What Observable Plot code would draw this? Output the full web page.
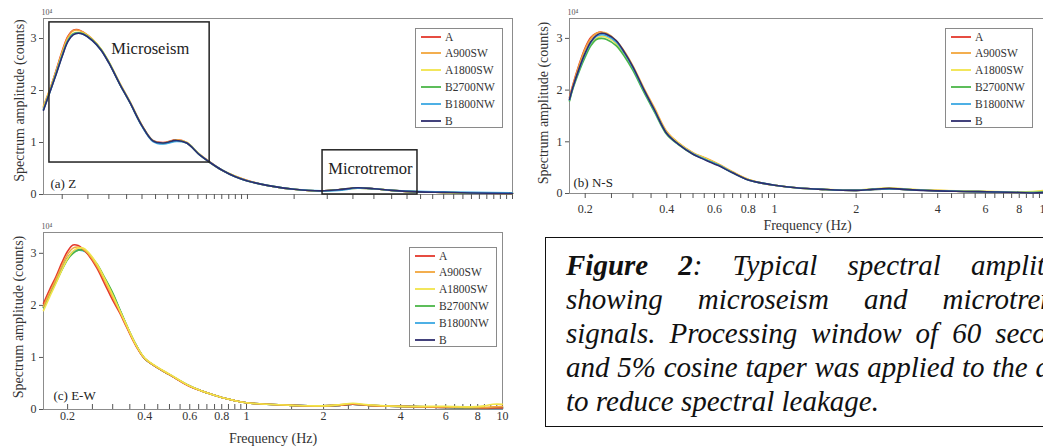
<!DOCTYPE html>
<html><head><meta charset="utf-8">
<script src="https://cdn.jsdelivr.net/npm/d3@7"></script>
<script src="https://cdn.jsdelivr.net/npm/@observablehq/plot@0.6"></script>
<style>
html,body{margin:0;padding:0;background:#fff;width:1043px;height:448px;overflow:hidden;}
#root{position:relative;width:1043px;height:448px;overflow:hidden;font-family:'Liberation Serif','Times New Roman',serif;}
.panel{position:absolute;}
.panel svg{max-width:none !important;display:block;}
.legend{position:absolute;border:1px solid #8a8a8a;background:#fff;box-sizing:border-box;font-family:'Liberation Serif',serif;font-size:11.5px;color:#333;}
.legend .row{position:absolute;left:0;height:14px;line-height:14px;white-space:nowrap;}
.legend svg{position:absolute;left:4px;top:0;}
.legend span{position:absolute;left:29px;top:0;}
#caption{position:absolute;left:545px;top:237px;height:190px;border:1.5px solid #111;box-sizing:border-box;padding:9.5px 0 0 20px;font-family:'Liberation Serif',serif;font-style:italic;font-size:29px;line-height:34px;color:#111;background:#fff;}
#caption .ln{text-align:justify;text-align-last:justify;white-space:normal;}
#caption .ln.last{text-align:left;text-align-last:left;}
.overlay{pointer-events:none;z-index:5;}
</style></head>
<body><div id="root"></div>
<script>
// ---------- shared ----------
const seriesNames = ["A","A900SW","A1800SW","B2700NW","B1800NW","B"];
const seriesColors = ["#e4382c","#f2a53c","#f1e44a","#4bb648","#3aa8e2","#2e2d6e"];
const xTickValues = [0.2,0.25,0.3,0.35,0.4,0.45,0.5,0.55,0.6,0.65,0.7,0.75,0.8,0.85,0.9,0.95,1,1.5,2,2.5,3,3.5,4,4.5,5,5.5,6,6.5,7,7.5,8,8.5,9,9.5,10];
const xTickLabels = [0.2,0.4,0.6,0.8,1,2,4,6,8,10];
const yTickValues = [0,1,2,3];
const yLabel = "Spectrum amplitude (counts)";
const xLabel = "Frequency (Hz)";
const panelLabels = ["(a) Z","(b) N-S","(c) E-W"];

// ---------- (a) Z component, amplitude in 10^4 counts ----------
const freqZ = [0.17,0.18,0.19,0.20,0.21,0.22,0.23,0.24,0.26,0.28,0.30,0.33,0.36,0.40,0.44,0.48,0.54,0.59,0.66,0.72,0.80,0.90,1.0,1.2,1.5,1.9,2.2,2.6,3.0,3.5,4.4,5.5,7.0,10];
const zA       = [1.68,2.02,2.40,2.76,3.04,3.16,3.17,3.12,2.98,2.79,2.54,2.13,1.78,1.33,1.04,1.00,1.05,1.00,0.77,0.63,0.47,0.35,0.27,0.17,0.10,0.07,0.09,0.13,0.11,0.08,0.05,0.04,0.03,0.02];
const zA900SW  = [1.70,2.04,2.38,2.74,3.02,3.15,3.16,3.12,2.99,2.80,2.55,2.14,1.79,1.33,1.03,0.99,1.05,1.00,0.77,0.62,0.47,0.35,0.27,0.17,0.10,0.07,0.09,0.12,0.11,0.08,0.05,0.04,0.03,0.02];
const zA1800SW = [1.66,2.00,2.36,2.70,2.98,3.10,3.12,3.10,2.98,2.80,2.55,2.13,1.78,1.32,1.03,0.99,1.04,1.00,0.77,0.62,0.47,0.35,0.26,0.17,0.10,0.07,0.09,0.12,0.11,0.08,0.05,0.04,0.03,0.03];
const zB2700NW = [1.64,1.99,2.34,2.68,2.96,3.09,3.11,3.09,2.97,2.79,2.54,2.12,1.77,1.32,1.03,0.98,1.03,0.99,0.76,0.62,0.47,0.34,0.26,0.17,0.10,0.07,0.09,0.13,0.11,0.08,0.05,0.04,0.03,0.02];
const zB1800NW = [1.63,1.98,2.33,2.67,2.95,3.08,3.10,3.08,2.96,2.78,2.53,2.12,1.77,1.31,1.02,0.97,1.02,0.99,0.76,0.62,0.47,0.34,0.26,0.17,0.10,0.07,0.08,0.12,0.11,0.08,0.06,0.05,0.04,0.03];
const zB       = [1.62,1.98,2.32,2.66,2.94,3.07,3.10,3.08,2.96,2.78,2.53,2.12,1.77,1.32,1.03,0.99,1.04,0.99,0.76,0.62,0.47,0.34,0.26,0.17,0.10,0.07,0.09,0.13,0.11,0.08,0.05,0.04,0.03,0.02];

// annotation boxes on panel (a)
const microseismBox = {x1:0.179, x2:0.72, y1:0.615, y2:3.31, label:"Microseism", lx:0.43, ly:2.81};
const microtremorBox = {x1:1.92, x2:4.38, y1:0.0, y2:0.85, label:"Microtremor", lx:2.91, ly:0.5};

// ---------- (b) N-S component ----------
const freqNS = [0.175,0.18,0.19,0.20,0.21,0.22,0.23,0.24,0.26,0.28,0.30,0.33,0.36,0.40,0.44,0.50,0.56,0.62,0.70,0.80,0.90,1.0,1.2,1.5,2.0,2.3,2.65,3.0,4.0,5.0,6.5,8.0,9.0,10];
const nsA       = [1.86,2.10,2.50,2.82,3.02,3.10,3.12,3.08,2.94,2.70,2.44,2.00,1.63,1.18,0.98,0.78,0.67,0.56,0.41,0.27,0.20,0.16,0.11,0.08,0.06,0.08,0.09,0.08,0.05,0.04,0.03,0.02,0.02,0.03];
const nsA900SW  = [1.84,2.08,2.48,2.80,3.00,3.10,3.12,3.10,2.96,2.74,2.47,2.03,1.66,1.20,0.99,0.79,0.68,0.57,0.42,0.27,0.20,0.16,0.11,0.08,0.06,0.08,0.10,0.08,0.06,0.04,0.03,0.02,0.02,0.03];
const nsA1800SW = [1.80,2.04,2.40,2.70,2.90,3.00,3.04,3.02,2.90,2.68,2.42,1.98,1.62,1.17,0.98,0.78,0.67,0.56,0.41,0.27,0.20,0.16,0.11,0.08,0.07,0.09,0.11,0.09,0.06,0.05,0.04,0.03,0.04,0.06];
const nsB2700NW = [1.79,2.02,2.36,2.64,2.86,2.98,3.00,2.98,2.86,2.64,2.38,1.95,1.58,1.14,0.95,0.76,0.65,0.55,0.40,0.26,0.20,0.16,0.11,0.08,0.06,0.08,0.09,0.08,0.05,0.04,0.03,0.02,0.02,0.03];
const nsB1800NW = [1.81,2.04,2.40,2.70,2.92,3.04,3.07,3.05,2.93,2.70,2.43,1.99,1.61,1.16,0.96,0.77,0.65,0.55,0.40,0.26,0.20,0.16,0.11,0.08,0.06,0.08,0.09,0.08,0.05,0.04,0.03,0.02,0.02,0.02];
const nsB       = [1.82,2.05,2.42,2.72,2.94,3.06,3.10,3.08,2.96,2.72,2.45,2.00,1.62,1.16,0.96,0.76,0.64,0.54,0.40,0.26,0.20,0.16,0.11,0.08,0.06,0.08,0.10,0.08,0.05,0.04,0.03,0.02,0.01,0.02];

// ---------- (c) E-W component ----------
const freqEW = [0.161,0.17,0.18,0.19,0.20,0.21,0.22,0.23,0.24,0.26,0.28,0.30,0.32,0.34,0.37,0.40,0.45,0.50,0.60,0.70,0.80,0.90,1.0,1.2,1.5,2.0,2.3,2.6,3.0,4.0,5.0,6.0,7.5,8.5,9.2,10];
const ewA       = [2.04,2.30,2.55,2.82,3.04,3.16,3.15,3.08,2.98,2.72,2.40,2.10,1.85,1.58,1.22,0.98,0.80,0.67,0.44,0.32,0.23,0.17,0.13,0.10,0.08,0.07,0.08,0.10,0.08,0.06,0.05,0.04,0.04,0.03,0.03,0.03];
const ewA900SW  = [1.98,2.24,2.50,2.76,2.98,3.10,3.12,3.08,3.00,2.76,2.46,2.16,1.88,1.60,1.23,0.98,0.80,0.67,0.45,0.32,0.23,0.17,0.13,0.10,0.08,0.07,0.09,0.11,0.08,0.06,0.05,0.05,0.04,0.04,0.05,0.06];
const ewA1800SW = [1.90,2.16,2.42,2.68,2.90,3.04,3.10,3.10,3.03,2.80,2.50,2.20,1.90,1.62,1.24,0.99,0.81,0.68,0.45,0.32,0.23,0.17,0.13,0.10,0.08,0.07,0.09,0.12,0.09,0.06,0.06,0.06,0.05,0.07,0.10,0.10];
const ewB2700NW = [1.96,2.20,2.44,2.68,2.88,3.00,3.06,3.06,3.00,2.80,2.52,2.24,1.92,1.62,1.24,0.98,0.80,0.67,0.45,0.32,0.23,0.17,0.13,0.10,0.08,0.07,0.08,0.10,0.08,0.06,0.05,0.04,0.03,0.03,0.03,0.04];
const ewB1800NW = [1.96,2.20,2.45,2.70,2.90,3.02,3.06,3.05,2.99,2.78,2.50,2.22,1.91,1.61,1.24,0.98,0.80,0.67,0.45,0.32,0.23,0.17,0.13,0.10,0.08,0.07,0.08,0.10,0.08,0.06,0.05,0.04,0.03,0.03,0.02,0.02];
const ewB       = [1.97,2.22,2.46,2.70,2.91,3.03,3.07,3.06,3.00,2.78,2.50,2.21,1.90,1.61,1.24,0.98,0.80,0.67,0.45,0.32,0.23,0.17,0.13,0.10,0.08,0.07,0.08,0.10,0.08,0.06,0.05,0.04,0.03,0.03,0.03,0.03];

// caption
const captionBold = "Figure 2";
const captionLines = [": Typical spectral amplitude","showing microseism and microtremor","signals. Processing window of 60 seconds","and 5% cosine taper was applied to the data","to reduce spectral leakage."];

// ---------- helpers ----------
const FONT = "'Liberation Serif', 'Times New Roman', serif";
const PLOT_STYLE = "font-family:'Liberation Serif','Times New Roman',serif;font-size:12px;background:transparent;color:#555;overflow:visible;max-width:none;";
function toRows(freq, byName, order){
  return order.flatMap(name => byName[name].map((v,i)=>({f:freq[i], v, series:name})));
}
const fmt = d => String(d);

function mount(p, o, cls){
  const div = document.createElement("div");
  div.className = "panel" + (cls ? " " + cls : "");
  div.style.left = o.left+"px"; div.style.top = o.top+"px";
  div.style.width = o.width+"px"; div.style.height = o.height+"px";
  div.appendChild(p);
  document.getElementById("root").appendChild(div);
}

function xLabelMarks(o){
  return [
    Plot.text(xTickLabels, {x: d => d, text: fmt, frameAnchor:"bottom", textAnchor:"middle", lineAnchor:"middle", dy:o.xTickDy, fontSize:12, fontFamily:FONT, fill:"#333"}),
    Plot.text([xLabel], {frameAnchor:"bottom", textAnchor:"middle", lineAnchor:"middle", dy:o.xLabelOff, fontSize:14, fontFamily:FONT, fill:"#333"})
  ];
}

function panel(o){
  const fh = o.height - o.mt - o.mb;
  const tickMarks = o.inwardTicks
    ? [Plot.tickX(xTickValues, {x: d => d, insetTop: fh - 5, stroke:"#555", strokeWidth:1})]
    : [Plot.tickX(xTickValues, {x: d => d, insetTop: fh, insetBottom: -5, stroke:"#555", strokeWidth:1})];
  const marks = [
    Plot.frame({stroke:"#8c8c8c", strokeWidth:1}),
    ...tickMarks,
    Plot.axisY({ticks:yTickValues, tickSize:4, tickPadding:3, label:null, fontSize:12, fontFamily:FONT, fill:"#333", stroke:"#555", tickFormat: d => String(d)}),
    Plot.line(o.rows, {x:"f", y:"v", z:"series", stroke:"series", strokeWidth:1.6, curve:"catmull-rom"}),
    ...(o.extra || []),
    Plot.text([yLabel], {frameAnchor:"left", textAnchor:"middle", lineAnchor:"middle", rotate:-90, dx:-o.yLabelOff, dy:o.yLabelDy, fontSize:14, fontFamily:FONT, fill:"#333"}),
    Plot.text(["10\u2074"], {frameAnchor:"top-left", textAnchor:"start", lineAnchor:"middle", dy:-6, dx:-2, fontSize:8, fontFamily:FONT, fill:"#555"}),
    Plot.text([o.plabel], {frameAnchor:"bottom-left", textAnchor:"start", lineAnchor:"middle", dx:o.pdx, dy:o.pdy, fontSize:13, fontFamily:FONT, fill:"#222"})
  ];
  if (o.xLabels && !o.overlayLabels) marks.push(...xLabelMarks(o));
  const p = Plot.plot({
    width:o.width, height:o.height,
    marginLeft:o.ml, marginRight:o.mr, marginTop:o.mt, marginBottom:o.mb,
    style:PLOT_STYLE,
    x:{type:"log", domain:o.xdomain, axis:null},
    y:{domain:[0,o.ytop]},
    color:{domain:seriesNames, range:seriesColors},
    marks
  });
  mount(p, o);
}

// frequency tick labels drawn in their own layer that shares the panel's x scale settings
function labelLayer(o){
  const p = Plot.plot({
    width:o.width, height:o.height,
    marginLeft:o.ml, marginRight:o.mr, marginTop:o.mt, marginBottom:o.mb,
    style:PLOT_STYLE,
    x:{type:"log", domain:o.xdomain, axis:null},
    marks: xLabelMarks(o)
  });
  mount(p, o, "overlay");
}

function legend(left, top){
  const d = document.createElement("div");
  d.className = "legend";
  d.style.left = left+"px"; d.style.top = top+"px";
  d.style.width = "88px"; d.style.height = "100px";
  seriesNames.forEach((name,i)=>{
    const r = document.createElement("div");
    r.className = "row";
    r.style.top = (0.5 + i*16.8)+"px";
    r.innerHTML = `<svg width="22" height="14"><line x1="1" x2="21" y1="7" y2="7" stroke="${seriesColors[i]}" stroke-width="1.8"/></svg><span>${name}</span>`;
    d.appendChild(r);
  });
  document.getElementById("root").appendChild(d);
}

const mk = (a) => Object.fromEntries(seriesNames.map((n,i)=>[n,a[i]]));

const cfgC = {
  left:0, top:200, width:530, height:248, ml:43, mr:28, mt:32, mb:39,
  xdomain:[0.161,10], ytop:3.40, xLabels:true, inwardTicks:true, xTickDy:7, yLabelOff:25, yLabelDy:-4, xLabelOff:29,
  plabel:panelLabels[2], pdx:10, pdy:-14,
  rows: toRows(freqEW, mk([ewA,ewA900SW,ewA1800SW,ewB2700NW,ewB1800NW,ewB]), ["B","B1800NW","B2700NW","A","A900SW","A1800SW"])
};
const cfgA = {
  left:0, top:0, width:530, height:204, ml:43, mr:18, mt:18, mb:10,
  xdomain:[0.17,10], ytop:3.385, xLabels:false, yLabelOff:24, yLabelDy:-6,
  plabel:panelLabels[0], pdx:7, pdy:-11,
  rows: toRows(freqZ, mk([zA,zA900SW,zA1800SW,zB2700NW,zB1800NW,zB]), seriesNames),
  extra:[
    Plot.rect([microseismBox, microtremorBox], {x1:"x1", x2:"x2", y1:"y1", y2:"y2", fill:"none", stroke:"#222", strokeWidth:1.5}),
    Plot.text([microseismBox, microtremorBox], {x:"lx", y:"ly", text:"label", fontSize:16.5, fontFamily:FONT, fill:"#222"})
  ]
};
const cfgB = {
  left:530, top:0, width:520, height:240, ml:39, mr:5, mt:18, mb:47,
  xdomain:[0.175,10], ytop:3.385, xLabels:true, overlayLabels:true, xTickDy:16, yLabelOff:26, yLabelDy:-3, xLabelOff:32,
  plabel:panelLabels[1], pdx:4, pdy:-11,
  rows: toRows(freqNS, mk([nsA,nsA900SW,nsA1800SW,nsB2700NW,nsB1800NW,nsB]), seriesNames)
};

panel(cfgC);
panel(cfgA);
panel(cfgB);

legend(415, 28);
legend(945, 28);
legend(409, 247);

// caption box
(function(){
  const c = document.createElement("canvas").getContext("2d");
  c.font = "italic 29px 'Liberation Serif'";
  const W = Math.ceil(c.measureText(captionLines[3]).width) + 3;
  const box = document.createElement("div");
  box.id = "caption";
  box.style.width = (W + 45) + "px";
  captionLines.forEach((t,i)=>{
    const ln = document.createElement("div");
    ln.className = "ln" + (i === captionLines.length-1 ? " last" : "");
    ln.style.width = W + "px";
    if (i === 0) {
      const b = document.createElement("b"); b.textContent = captionBold;
      ln.appendChild(b); ln.appendChild(document.createTextNode(t));
    } else ln.textContent = t;
    box.appendChild(ln);
  });
  document.getElementById("root").appendChild(box);
})();

// label layer for panel (b), on top of everything
labelLayer(cfgB);
</script>
</body></html>
